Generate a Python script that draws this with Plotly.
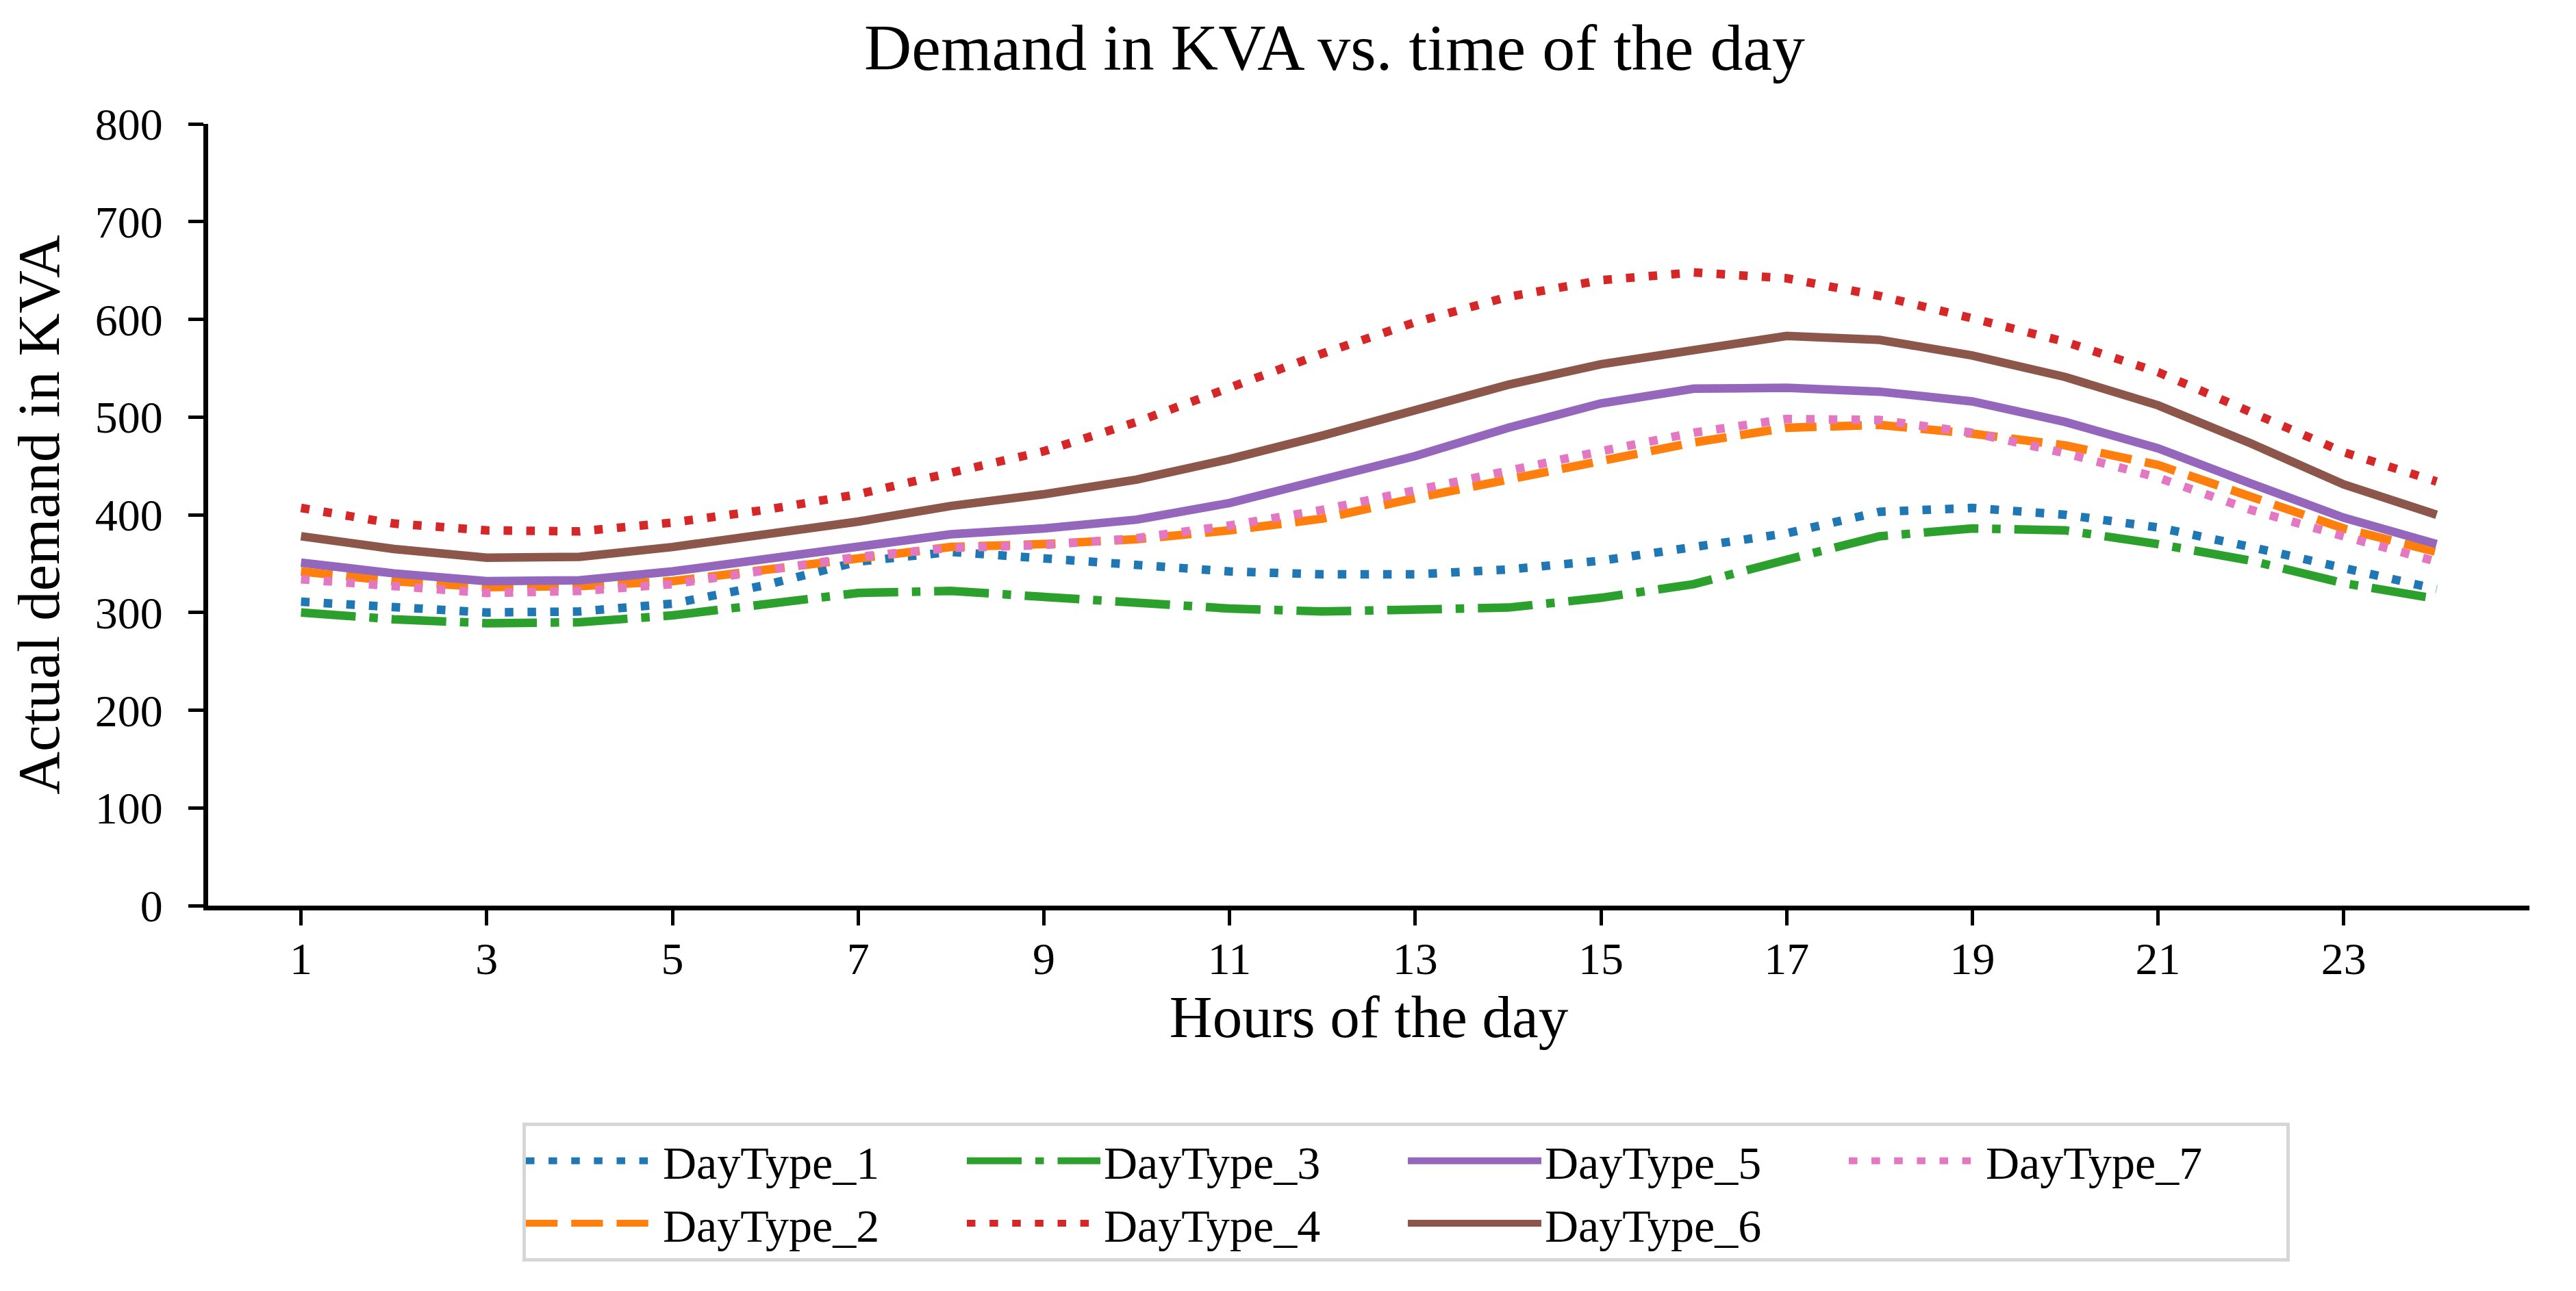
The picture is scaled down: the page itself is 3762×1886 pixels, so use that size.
import plotly.graph_objects as go

hours = list(range(1, 25))
series_names = ["DayType_1", "DayType_2", "DayType_3", "DayType_4",
                "DayType_5", "DayType_6", "DayType_7"]

daytype_1 = [311, 305, 300, 301, 309, 328, 352, 362, 356, 350, 342, 339,
             339, 344, 353, 367, 381, 403, 407, 400, 387, 367, 345, 324]
daytype_2 = [342, 332, 326, 327, 332, 344, 356, 367, 370, 375, 384, 396,
             417, 436, 456, 474, 489, 492, 483, 471, 451, 419, 386, 362]
daytype_3 = [300, 293, 289, 290, 297, 309, 320, 322, 316, 309, 304, 301,
             302, 305, 315, 329, 354, 378, 386, 384, 370, 353, 330, 314]
daytype_4 = [407, 391, 384, 383, 392, 405, 421, 443, 465, 495, 530, 565,
             597, 623, 640, 648, 642, 624, 601, 577, 546, 504, 464, 434]
daytype_5 = [351, 340, 332, 333, 342, 354, 368, 380, 386, 395, 412, 435,
             460, 489, 514, 529, 530, 526, 516, 495, 468, 432, 397, 370]
daytype_6 = [378, 365, 356, 357, 367, 380, 393, 409, 421, 436, 457, 481,
             506, 533, 554, 569, 583, 579, 563, 541, 512, 473, 431, 400]
daytype_7 = [334, 327, 320, 322, 329, 343, 357, 366, 369, 376, 389, 405,
             424, 445, 465, 484, 498, 497, 484, 463, 438, 405, 378, 352]

x_tick_vals = list(range(1, 24, 2))
y_tick_vals = list(range(0, 801, 100))

colors = ["#1f77b4", "#ff7f0e", "#2ca02c", "#d62728", "#9467bd", "#8c564b", "#e377c2"]
LW = 12.5
dot = f"{LW}px,{1.65*LW}px"
dashed = f"{3.7*LW}px,{1.6*LW}px"
dashdot = f"{6.4*LW}px,{1.6*LW}px,{LW}px,{1.6*LW}px"
dashes = [dot, dashed, dashdot, dot, "solid", "solid", dot]
groups = ["c1", "c1", "c2", "c2", "c3", "c3", "c4"]

all_series = [daytype_1, daytype_2, daytype_3, daytype_4, daytype_5, daytype_6, daytype_7]

FONT = "Liberation Serif"
W, H = 3762, 1886
L, R, T, B = 296, 76, 173, 571

fig = go.Figure()
for name, vals, c, d, g in zip(series_names, all_series, colors, dashes, groups):
    fig.add_trace(go.Scatter(
        x=hours, y=vals, mode="lines", name=name,
        line=dict(color=c, width=LW, dash=d),
        legendgroup=g,
    ))

fig.update_layout(
    width=W, height=H,
    margin=dict(l=L, r=R, t=T, b=B, pad=0),
    paper_bgcolor="white", plot_bgcolor="white",
    font=dict(family=FONT, color="black", size=66),
    title=dict(text="Demand in KVA vs. time of the day",
               font=dict(family=FONT, size=96, color="black"),
               x=1941 / W, xanchor="center", xref="container",
               y=1 - 60 / H, yanchor="middle", yref="container"),
    showlegend=True,
    legend=dict(
        orientation="h", traceorder="grouped", tracegroupgap=0,
        x=(755 - L) / (W - L - R), xanchor="left",
        y=(H - B - 1632) / (H - T - B), yanchor="top",
        bordercolor="#d6d6d6", borderwidth=5, bgcolor="white",
        font=dict(family=FONT, size=68, color="black"),
        itemwidth=195, entrywidth=434, valign="middle",
    ),
)

fig.update_xaxes(
    range=[0, 25], tickmode="array", tickvals=x_tick_vals,
    ticktext=[str(v) for v in x_tick_vals],
    showline=True, linecolor="black", linewidth=7, mirror=False,
    ticks="outside", ticklen=22, tickwidth=5, tickcolor="black",
    showgrid=False, zeroline=False,
    tickfont=dict(family=FONT, size=66, color="black"),
    ticklabelstandoff=-8,
    title=dict(text="Hours of the day", font=dict(family=FONT, size=87, color="black"),
               standoff=4),
)
fig.update_yaxes(
    range=[0, 800], tickmode="array", tickvals=y_tick_vals,
    ticktext=[str(v) for v in y_tick_vals],
    showline=True, linecolor="black", linewidth=7, mirror=False,
    ticks="outside", ticklen=22, tickwidth=5, tickcolor="black",
    showgrid=False, zeroline=False,
    tickfont=dict(family=FONT, size=66, color="black"),
    ticklabelstandoff=24,
    title=dict(text="Actual demand in KVA", font=dict(family=FONT, size=87, color="black"),
               standoff=30),
)

fig.write_html("out.html")
